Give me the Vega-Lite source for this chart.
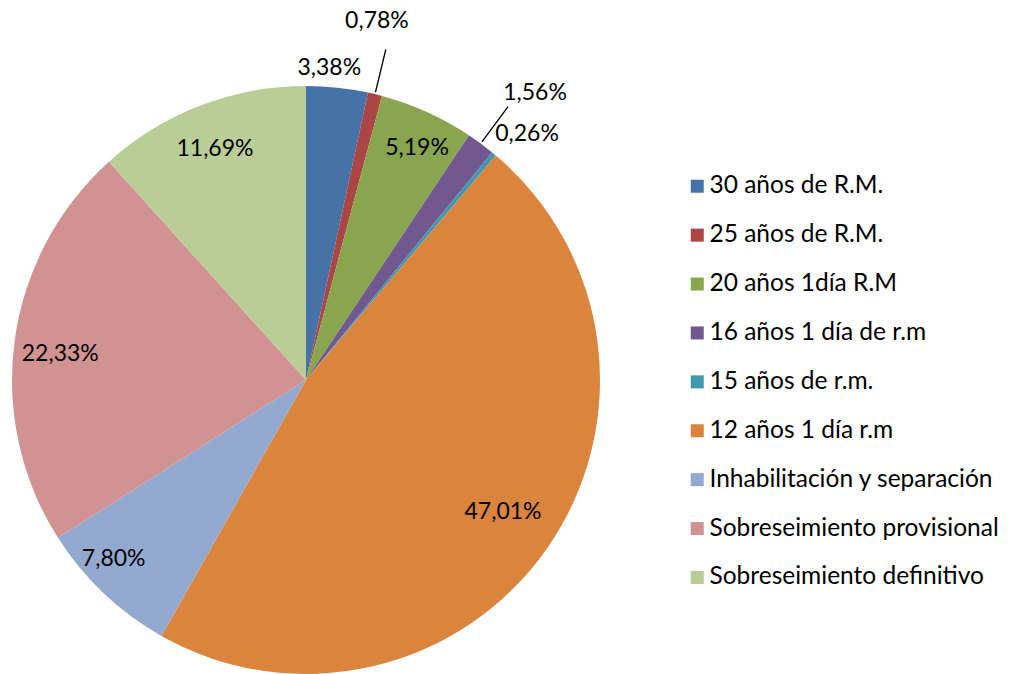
{
  "$schema": "https://vega.github.io/schema/vega-lite/v6.json",
  "autosize": {"type": "none"},
  "width": 588,
  "height": 588,
  "padding": {"left": 12, "top": 86, "right": 411, "bottom": 0},
  "background": "white",
  "config": {
    "view": {"stroke": null},
    "font": "Lato",
    "locale": {"number": {"decimal": ",", "thousands": ".", "grouping": [3], "currency": ["", " €"]}}
  },
  "data": {
    "values": [
      {"category": "30 años de R.M.", "value": 0.0338, "order": 1},
      {"category": "25 años de R.M.", "value": 0.0078, "order": 2},
      {"category": "20 años 1día R.M", "value": 0.0519, "order": 3},
      {"category": "16 años 1 día de r.m", "value": 0.0156, "order": 4},
      {"category": "15 años de r.m.", "value": 0.0026, "order": 5},
      {"category": "12 años 1 día r.m", "value": 0.4701, "order": 6},
      {"category": "Inhabilitación y separación", "value": 0.078, "order": 7},
      {"category": "Sobreseimiento provisional", "value": 0.2233, "order": 8},
      {"category": "Sobreseimiento definitivo", "value": 0.1169, "order": 9}
    ]
  },
  "encoding": {
    "theta": {"field": "value", "type": "quantitative", "stack": true},
    "order": {"field": "order", "type": "quantitative", "sort": "ascending"}
  },
  "layer": [
    {
      "mark": {"type": "arc", "outerRadius": 294},
      "encoding": {
        "color": {
          "field": "category",
          "type": "nominal",
          "scale": {
            "domain": ["30 años de R.M.", "25 años de R.M.", "20 años 1día R.M", "16 años 1 día de r.m", "15 años de r.m.", "12 años 1 día r.m", "Inhabilitación y separación", "Sobreseimiento provisional", "Sobreseimiento definitivo"],
            "range": ["#4572A7", "#AA4643", "#89A54E", "#71588F", "#4198AF", "#DB843D", "#93A9CF", "#D19392", "#B9CD96"]
          },
          "legend": {
            "title": null,
            "orient": "none",
            "legendX": 673,
            "legendY": 88,
            "symbolType": "square",
            "symbolSize": 169,
            "symbolStrokeWidth": 0,
            "labelFontSize": 24.5,
            "labelFont": "Lato",
            "labelColor": "#000000",
            "labelOffset": 0,
            "rowPadding": 23.9,
            "padding": 0,
            "labelLimit": 400
          }
        }
      }
    },
    {
      "mark": {"type": "arc", "radius": 296, "radius2": 340, "padAngle": 0.6, "fill": "transparent", "strokeWidth": 1.3},
      "encoding": {
        "stroke": {
          "condition": {"test": "datum.category == '25 años de R.M.' || datum.category == '16 años 1 día de r.m'", "value": "#000000"},
          "value": "transparent"
        }
      }
    },
    {
      "mark": {"type": "text", "radius": 255, "dx": 6, "fontSize": 23, "font": "Lato", "color": "#000000"},
      "encoding": {
        "text": {"condition": {"test": "datum.category == '20 años 1día R.M'", "field": "value", "format": ".2%"}, "value": ""}
      }
    },
    {
      "mark": {"type": "text", "radius": 240, "dy": -5, "fontSize": 23, "font": "Lato", "color": "#000000"},
      "encoding": {
        "text": {"condition": {"test": "datum.category == '12 años 1 día r.m'", "field": "value", "format": ".2%"}, "value": ""}
      }
    },
    {
      "mark": {"type": "text", "radius": 248, "dy": 7, "fontSize": 23, "font": "Lato", "color": "#000000"},
      "encoding": {
        "text": {"condition": {"test": "datum.category == 'Sobreseimiento provisional'", "field": "value", "format": ".2%"}, "value": ""}
      }
    },
    {
      "mark": {"type": "text", "radius": 248, "dx": -2, "fontSize": 23, "font": "Lato", "color": "#000000"},
      "encoding": {
        "text": {"condition": {"test": "datum.category == 'Sobreseimiento definitivo'", "field": "value", "format": ".2%"}, "value": ""}
      }
    },
    {
      "mark": {"type": "text", "radius": 262, "dx": -12, "dy": -11, "fontSize": 23, "font": "Lato", "color": "#000000"},
      "encoding": {
        "text": {"condition": {"test": "datum.category == 'Inhabilitación y separación'", "field": "value", "format": ".2%"}, "value": ""}
      }
    },
    {
      "mark": {"type": "text", "radius": 314, "dx": -10, "fontSize": 23, "font": "Lato", "color": "#000000"},
      "encoding": {
        "text": {"condition": {"test": "datum.category == '30 años de R.M.'", "field": "value", "format": ".2%"}, "value": ""}
      }
    },
    {
      "mark": {"type": "text", "radius": 362, "dx": -14, "dy": -7, "fontSize": 23, "font": "Lato", "color": "#000000"},
      "encoding": {
        "text": {"condition": {"test": "datum.category == '25 años de R.M.'", "field": "value", "format": ".2%"}, "value": ""}
      }
    },
    {
      "mark": {"type": "text", "radius": 345, "dx": 24, "dy": -10, "fontSize": 23, "font": "Lato", "color": "#000000"},
      "encoding": {
        "text": {"condition": {"test": "datum.category == '16 años 1 día de r.m'", "field": "value", "format": ".2%"}, "value": ""}
      }
    },
    {
      "mark": {"type": "text", "radius": 330, "dx": 10, "dy": 8, "fontSize": 23, "font": "Lato", "color": "#000000"},
      "encoding": {
        "text": {"condition": {"test": "datum.category == '15 años de r.m.'", "field": "value", "format": ".2%"}, "value": ""}
      }
    }
  ]
}
